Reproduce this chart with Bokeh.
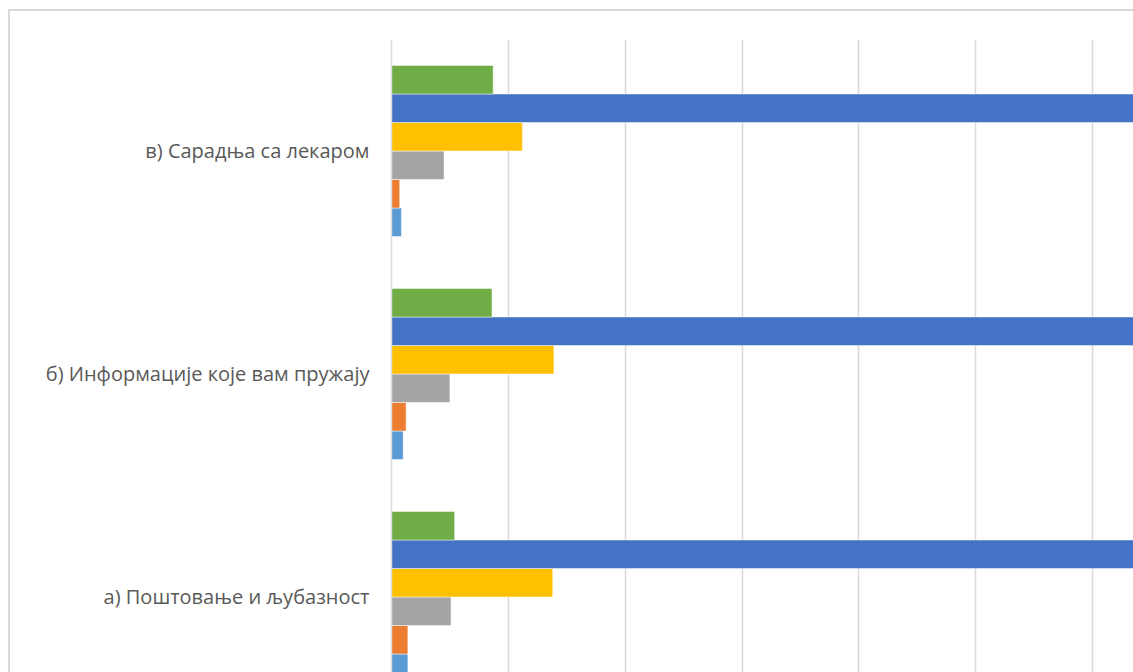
from bokeh.plotting import figure
from bokeh.models import ColumnDataSource, Range1d, FixedTicker, SingleIntervalTicker
from bokeh.transform import dodge
from bokeh.embed import file_html
from bokeh.resources import INLINE

categories = ["а) Поштовање и љубазност", "б) Информације које вам пружају", "в) Сарадња са лекаром"]
series_names = ["1", "2", "3", "4", "5", "Без одговора"]
s1 = [1.4, 1.0, 0.85]    # light blue
s2 = [1.4, 1.25, 0.7]    # orange
s3 = [5.1, 5.0, 4.5]     # gray
s4 = [13.8, 13.9, 11.2]  # yellow
s5 = [73.0, 70.3, 74.0]  # dark blue
s6 = [5.4, 8.6, 8.7]     # green
colors = ["#5B9BD5", "#ED7D31", "#A5A5A5", "#FFC000", "#4472C4", "#70AD47"]

ypos = [i + 0.5 for i in range(len(categories))]
src = ColumnDataSource(dict(y=ypos, s1=s1, s2=s2, s3=s3, s4=s4, s5=s5, s6=s6))

p = figure(width=1133, height=672, output_backend="svg", toolbar_location=None,
           x_range=Range1d(0, 63.5), y_range=Range1d(0.1614, 3.0),
           min_border_left=391, min_border_top=39, min_border_right=0, min_border_bottom=0)
p.border_fill_color = None
p.background_fill_color = "white"
p.styles = {
    "background": ("linear-gradient(#d9d9d9,#d9d9d9) 8px 9px / 2px 100% no-repeat, "
                   "linear-gradient(#d9d9d9,#d9d9d9) 8px 9px / 100% 2px no-repeat, white")
}
p.outline_line_color = None

h = 0.1278
keys = ["s1", "s2", "s3", "s4", "s5", "s6"]
for k, (key, c) in enumerate(zip(keys, colors)):
    off = (k - 2.5) * h
    p.hbar(y=dodge("y", off), right=key, left=0, height=h, source=src,
           fill_color=c, line_color="white", line_width=0.8, line_alpha=0.6,
           legend_label=series_names[k])
p.legend.visible = False

p.xaxis.visible = False
p.xaxis.ticker = SingleIntervalTicker(interval=10)
p.xgrid.ticker = SingleIntervalTicker(interval=10)
p.xgrid.grid_line_color = "#d9d9d9"
p.xgrid.grid_line_width = 1.5
p.ygrid.visible = False

p.yaxis.ticker = FixedTicker(ticks=ypos)
p.yaxis.major_label_overrides = {y: c for y, c in zip(ypos, categories)}
p.yaxis.axis_line_color = "#d9d9d9"
p.yaxis.axis_line_width = 1.5
p.yaxis.major_tick_line_color = None
p.yaxis.minor_tick_line_color = None
p.yaxis.major_tick_out = 0
p.yaxis.major_tick_in = 0
p.yaxis.major_label_standoff = 22
p.yaxis.major_label_text_font = "Open Sans"
p.yaxis.major_label_text_font_size = "20px"
p.yaxis.major_label_text_color = "#595959"

open("out.html", "w").write(file_html(p, INLINE))
